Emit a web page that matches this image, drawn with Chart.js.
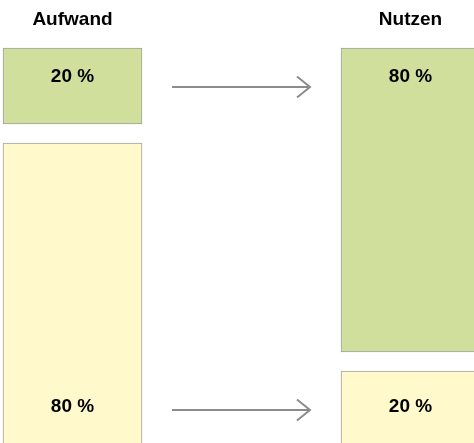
<html>
<head>
<meta charset="UTF-8">
<title>Aufwand / Nutzen</title>
<script src="https://cdn.jsdelivr.net/npm/chart.js@4/dist/chart.umd.min.js"></script>
<style>
  html, body { margin: 0; padding: 0; background: #fff; overflow: hidden; }
  #wrap { position: relative; width: 474px; height: 443px; overflow: hidden; }
  #canvas { position: absolute; left: 0; top: 0; display: block; }
</style>
</head>
<body>
<div id="wrap"><canvas id="canvas" width="520" height="460"></canvas></div>
<script>
const categories = ['Aufwand', 'Nutzen'];
const gruen = [20, 80];   // obere Blöcke
const gelb = [80, 20];    // untere Blöcke
const luecke = 5;         // Abstand zwischen den Blöcken (in %)

const labelsPlugin = {
    id: 'labels',
    afterDraw(chart) {
        const ctx = chart.ctx;
        const gelbMeta = chart.getDatasetMeta(0);
        const gruenMeta = chart.getDatasetMeta(2);
        ctx.save();
        ctx.fillStyle = '#000';
        ctx.font = 'bold 19px "Liberation Sans", Arial, sans-serif';
        ctx.textAlign = 'center';
        ctx.textBaseline = 'middle';
        categories.forEach(function (c, i) {
            let g = gruenMeta.data[i];
            let y = gelbMeta.data[i];
            ctx.fillText(c, g.x, 20);
            ctx.fillText(gruen[i] + ' %', g.x, g.y + 29);
            ctx.fillText(gelb[i] + ' %', y.x, y.base - 40);
        });

        // Pfeile
        let l = gruenMeta.data[0], r = gruenMeta.data[1];
        let x1 = l.x + l.width / 2 + 30;
        let x2 = r.x - r.width / 2 - 31;
        let rows = [l.y + 39, gelbMeta.data[0].base - 37];
        ctx.strokeStyle = '#8c8c8c';
        ctx.lineWidth = 2;
        rows.forEach(function (yy) {
            ctx.beginPath();
            ctx.moveTo(x1, yy);
            ctx.lineTo(x2, yy);
            ctx.moveTo(x2 - 13, yy - 10.5);
            ctx.lineTo(x2, yy);
            ctx.lineTo(x2 - 13, yy + 10.5);
            ctx.stroke();
        });
        ctx.restore();
    }
};

const ctx = document.getElementById('canvas').getContext('2d');
const config = {
    type: 'bar',
    data: {
        labels: categories,
        datasets: [{
            data: gelb,
            backgroundColor: '#fff9cc',
            borderColor: '#a0a0a0',
            borderWidth: 1,
            borderSkipped: false
        }, {
            data: categories.map(function () { return luecke; }),
            backgroundColor: 'rgba(0,0,0,0)',
            borderWidth: 0
        }, {
            data: gruen,
            backgroundColor: '#d0df9c',
            borderColor: '#a0a0a0',
            borderWidth: 1,
            borderSkipped: false
        }]
    },
    options: {
        responsive: false,
        animation: false,
        layout: { padding: { left: 72.5, right: 109.5, top: 48, bottom: 13 } },
        datasets: { bar: { barThickness: 139, clip: false } },
        plugins: { legend: { display: false }, tooltip: { enabled: false } },
        scales: {
            x: { stacked: true, offset: false, display: false },
            y: { stacked: true, min: 0, max: 100 + luecke, display: false }
        }
    },
    plugins: [labelsPlugin]
};
new Chart(ctx, config);
</script>
</body>
</html>
